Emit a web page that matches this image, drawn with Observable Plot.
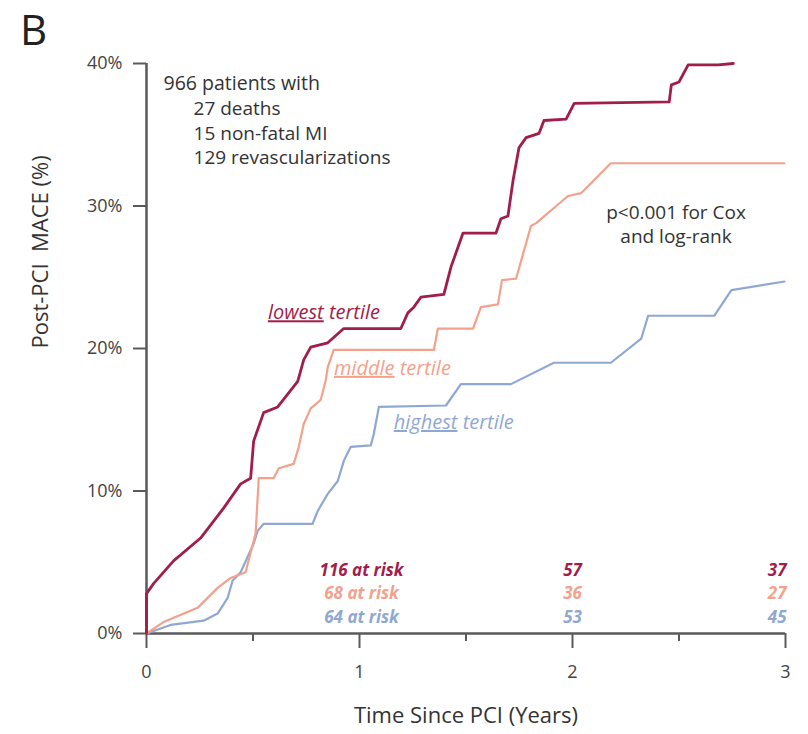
<!DOCTYPE html>
<html>
<head>
<meta charset="utf-8">
<script src="https://cdn.jsdelivr.net/npm/d3@7"></script>
<script src="https://cdn.jsdelivr.net/npm/@observablehq/plot@0.6"></script>
<style>
  body { margin: 0; background: white; }
  #wrap { position: relative; width: 808px; height: 734px; }
  #panel { position: absolute; left: 20px; top: 0px; font-family: "Open Sans", sans-serif; font-size: 42px; color: #222; line-height: normal; }
</style>
</head>
<body>
<div id="wrap"><div id="panel">B</div></div>
<script>
// Kaplan-Meier style cumulative MACE curves (time in years, value in %)
const lowestT = [0,0,0.033,0.127,0.254,0.362,0.442,0.489,0.503,0.55,0.616,0.663,0.71,0.738,0.771,0.851,0.926,1.194,1.227,1.255,1.288,1.396,1.429,1.486,1.641,1.664,1.697,1.721,1.749,1.782,1.843,1.866,1.97,2.008,2.454,2.464,2.50,2.543,2.684,2.755];
const lowestV = [0,2.8,3.5,5.1,6.7,8.8,10.5,10.9,13.5,15.5,15.9,16.8,17.7,19.2,20.1,20.4,21.4,21.4,22.5,22.9,23.6,23.8,25.7,28.1,28.1,29.1,29.3,31.8,34.1,34.8,35.1,36.0,36.1,37.2,37.3,38.5,38.7,39.9,39.9,40.0];
const middleT = [0,0.08,0.24,0.334,0.395,0.465,0.512,0.527,0.597,0.621,0.691,0.715,0.738,0.771,0.818,0.842,0.851,0.879,1.349,1.368,1.533,1.57,1.65,1.669,1.735,1.805,1.829,1.979,2.04,2.18,2.995];
const middleV = [0,0.8,1.8,3.2,3.9,4.3,7.0,10.9,10.9,11.6,11.9,13.1,14.7,15.8,16.4,17.8,18.7,19.9,19.9,21.4,21.4,22.9,23.1,24.8,24.9,28.6,28.8,30.7,30.9,33.0,33.0];
const highestT = [0,0.113,0.268,0.334,0.381,0.404,0.442,0.503,0.522,0.55,0.78,0.804,0.851,0.898,0.926,0.959,1.053,1.067,1.091,1.406,1.476,1.711,1.913,2.18,2.323,2.355,2.666,2.746,2.995];
const highestV = [0,0.6,0.9,1.4,2.5,3.7,4.3,6.3,7.2,7.7,7.7,8.6,9.8,10.7,12.1,13.1,13.2,14.0,15.9,16.0,17.5,17.5,19.0,19.0,20.7,22.3,22.3,24.1,24.7];

const groups = ["highest", "middle", "lowest"];
const groupLabels = ["highest tertile", "middle tertile", "lowest tertile"];
const colors = ["#8fa8d3", "#f4a18c", "#a11d4c"];

// Numbers at risk
const riskYears = [1, 2, 3];
const riskLowest = [116, 57, 37];
const riskMiddle = [68, 36, 27];
const riskHighest = [64, 53, 45];

const xTicks = [0, 1, 2, 3];
const xMinorTicks = [0.5, 1.5, 2.5];
const yTicks = [0, 10, 20, 30, 40];

const zip = (g, T, V) => T.map((t, i) => ({group: g, t, v: V[i]}));
const curves = [
  ...zip("highest", highestT, highestV),
  ...zip("middle", middleT, middleV),
  ...zip("lowest", lowestT, lowestV)
];

const riskRows = [];
[[riskLowest, "lowest", 4.4], [riskMiddle, "middle", 2.8], [riskHighest, "highest", 1.1]].forEach(([arr, g, yy]) => {
  arr.forEach((n, i) => riskRows.push({group: g, t: riskYears[i], row: yy, label: i === 0 ? `${n} at risk` : `${n}`}));
});

const colorOf = g => colors[groups.indexOf(g)];
const axisColor = "#5a5a5a";

const plot = Plot.plot({
  width: 808,
  height: 734,
  marginLeft: 146,
  marginRight: 23,
  marginTop: 63,
  marginBottom: 101,
  style: {fontFamily: "Open Sans, sans-serif", background: "white"},
  x: {domain: [0, 3]},
  y: {domain: [0, 40]},
  marks: [
    Plot.axisX({ticks: xMinorTicks, tickSize: 8, tickFormat: () => "", stroke: axisColor, strokeWidth: 2, label: null}),
    Plot.axisX({ticks: xTicks, tickSize: 15, tickPadding: 17, tickFormat: d => String(d), fontSize: 18, fill: "#444", stroke: axisColor, strokeWidth: 2, label: null}),
    Plot.axisY({ticks: yTicks, tickSize: 13, tickPadding: 11, tickFormat: d => d + "%", fontSize: 18, fill: "#444", stroke: axisColor, strokeWidth: 2, label: null}),
    Plot.ruleX([0], {stroke: axisColor, strokeWidth: 2.5}),
    Plot.ruleY([0], {stroke: axisColor, strokeWidth: 2.5}),
    Plot.line(curves, {x: "t", y: "v", z: "group", stroke: d => colorOf(d.group),
      strokeWidth: d => d.group === "lowest" ? 2.8 : 2.2, curve: "linear"}),
    Plot.text([groupLabels[2]], {x: 0.57, y: 22.5, text: d => d, textAnchor: "start", fill: colors[2], fontSize: 20, fontStyle: "italic"}),
    Plot.text([groupLabels[1]], {x: 0.88, y: 18.6, text: d => d, textAnchor: "start", fill: colors[1], fontSize: 20, fontStyle: "italic"}),
    Plot.text([groupLabels[0]], {x: 1.161, y: 14.8, text: d => d, textAnchor: "start", fill: colors[0], fontSize: 20, fontStyle: "italic"}),
    Plot.text(["966 patients with"], {x: 0.08, y: 38.6, text: d => d, textAnchor: "start", fill: "#333", fontSize: 19.5}),
    Plot.text(["27 deaths\n15 non-fatal MI\n129 revascularizations"], {x: 0.221, y: 35.2, text: d => d, textAnchor: "start", fill: "#333", fontSize: 19, lineHeight: 1.3}),
    Plot.text(["p<0.001 for Cox"], {x: 2.486, y: 29.5, text: d => d, textAnchor: "middle", fill: "#333", fontSize: 19}),
    Plot.text(["and log-rank"], {x: 2.486, y: 27.8, text: d => d, textAnchor: "middle", fill: "#333", fontSize: 19}),
    Plot.text(riskRows.filter(d => d.t === 1), {x: "t", y: "row", text: "label", textAnchor: "middle", dx: 2, fill: d => colorOf(d.group), fontSize: 17, fontWeight: "bold", fontStyle: "italic"}),
    Plot.text(riskRows.filter(d => d.t === 2), {x: "t", y: "row", text: "label", textAnchor: "middle", fill: d => colorOf(d.group), fontSize: 17, fontWeight: "bold", fontStyle: "italic"}),
    Plot.text(riskRows.filter(d => d.t === 3), {x: "t", y: "row", text: "label", textAnchor: "end", dx: 1, fill: d => colorOf(d.group), fontSize: 17, fontWeight: "bold", fontStyle: "italic"}),
    Plot.text(["Post-PCI  MACE (%)"], {frameAnchor: "left", rotate: -90, dx: -106, text: d => d, fill: "#333", fontSize: 22}),
    Plot.text(["Time Since PCI (Years)"], {frameAnchor: "bottom", dy: 89, text: d => d, fill: "#333", fontSize: 22})
  ]
});

// underline the first word of each curve label
d3.select(plot).selectAll("text").each(function() {
  const s = this.textContent;
  if (groupLabels.includes(s)) {
    const [w, rest] = s.split(" ");
    const sel = d3.select(this);
    sel.text(null);
    sel.append("tspan").attr("text-decoration", "underline").text(w);
    sel.append("tspan").text(" " + rest);
  }
});

document.getElementById("wrap").prepend(plot);
</script>
</body>
</html>
